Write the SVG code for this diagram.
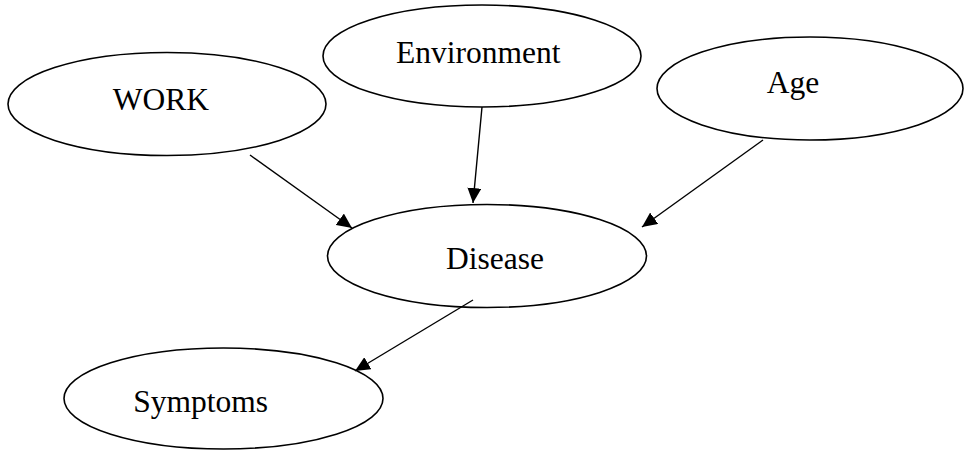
<svg xmlns="http://www.w3.org/2000/svg" width="965" height="452" viewBox="0 0 965 452">
  <style>
    .node ellipse { fill: #ffffff; stroke: #000000; stroke-width: 1.6; }
    .node text { font-family: "Liberation Serif", "Times New Roman", serif; font-size: 31.5px; fill: #000000; }
    .edge { stroke: #000000; stroke-width: 1.4; fill: none; marker-end: url(#arrow); }
  </style>
  <defs>
    <marker id="arrow" markerUnits="userSpaceOnUse" markerWidth="16" markerHeight="14" refX="15" refY="7" orient="auto">
      <path d="M0,0 L15,7 L0,14 z" fill="#000000"/>
    </marker>
  </defs>
  <rect width="965" height="452" fill="#ffffff"/>
  <g id="work" class="node">
    <ellipse cx="167" cy="104" rx="159" ry="51.5"/>
    <text x="112.7" y="110">WORK</text>
  </g>
  <g id="environment" class="node">
    <ellipse cx="482" cy="56" rx="159" ry="51"/>
    <text x="396" y="62.7">Environment</text>
  </g>
  <g id="age" class="node">
    <ellipse cx="810" cy="88.5" rx="153" ry="51.5"/>
    <text x="766.7" y="92.7">Age</text>
  </g>
  <g id="disease" class="node">
    <ellipse cx="487" cy="256" rx="159.5" ry="51.5"/>
    <text x="446" y="269.3">Disease</text>
  </g>
  <g id="symptoms" class="node">
    <ellipse cx="223.5" cy="398.5" rx="159.5" ry="50.5"/>
    <text x="133.3" y="411.7">Symptoms</text>
  </g>
  <g id="connectors">
    <line class="edge" x1="250" y1="155" x2="352" y2="228"/>
    <line class="edge" x1="482" y1="107" x2="473" y2="203"/>
    <line class="edge" x1="763" y1="140" x2="642" y2="227"/>
    <line class="edge" x1="473" y1="300" x2="355" y2="371"/>
  </g>
</svg>
